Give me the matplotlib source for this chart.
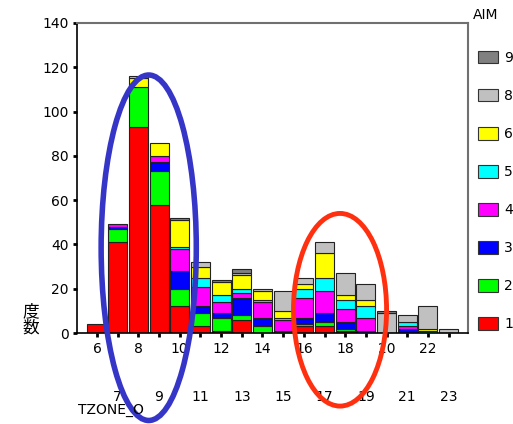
import numpy as np
import matplotlib.pyplot as plt
from matplotlib.patches import Ellipse, Patch

plt.rcParams['font.family'] = ['DejaVu Sans', 'Noto Sans CJK JP']

# --- data: counts per TZONE_O, stacked by AIM ---
tzone = list(range(6, 24))
aim_labels = ["1", "2", "3", "4", "5", "6", "8", "9"]
aim_colors = ["#ff0000", "#00ff00", "#0000ff", "#ff00ff",
              "#00ffff", "#ffff00", "#c0c0c0", "#808080"]

aim1 = [4, 41, 93, 58, 12, 3, 1, 6, 0, 0, 3, 3, 1, 0, 0, 0, 0, 0]
aim2 = [0, 6, 18, 15, 8, 6, 6, 2, 3, 1, 1, 2, 1, 0, 0, 0, 0, 0]
aim3 = [0, 1, 0, 4, 8, 3, 2, 8, 4, 0, 3, 4, 3, 1, 0, 2, 0, 0]
aim4 = [0, 1, 0, 3, 10, 9, 5, 2, 7, 5, 9, 10, 6, 6, 0, 1, 0, 0]
aim5 = [0, 0, 0, 0, 1, 4, 3, 2, 1, 1, 4, 6, 4, 5, 0, 2, 1, 0]
aim6 = [0, 0, 4, 6, 12, 5, 6, 6, 4, 3, 2, 11, 2, 3, 0, 0, 1, 0]
aim8 = [0, 0, 1, 0, 0, 2, 0, 1, 1, 9, 3, 5, 10, 7, 9, 3, 10, 2]
aim9 = [0, 0, 0, 0, 1, 0, 1, 2, 0, 0, 0, 0, 0, 0, 1, 0, 0, 0]

series = [aim1, aim2, aim3, aim4, aim5, aim6, aim8, aim9]

fig = plt.figure(figsize=(5.13, 4.24), dpi=100)
ax = fig.add_axes([0.150, 0.2146, 0.762, 0.7312])

x = np.array(tzone)
bottom = np.zeros(len(x))
for vals, col in zip(series, aim_colors):
    v = np.array(vals, dtype=float)
    m = v > 0
    ax.bar(x[m], v[m], bottom=bottom[m], width=0.92, color=col,
           edgecolor="#222222", linewidth=0.8)
    bottom += v

ax.set_xlim(5.03, 23.93)
ax.set_ylim(0, 140)
ax.set_yticks(range(0, 141, 20))

# staggered x labels: even on the first row, odd on the second
evens = [t for t in tzone if t % 2 == 0]
odds = [t for t in tzone if t % 2 == 1]
ax.set_xticks(evens)
ax.set_xticklabels([str(t) for t in evens])
ax.set_xticks(odds, minor=True)
ax.set_xticklabels([str(t) for t in odds], minor=True)
ax.tick_params(axis="x", which="both", direction="out", length=3, width=2,
               labelsize=10)
ax.tick_params(axis="x", which="major", pad=3.5)
ax.tick_params(axis="x", which="minor", pad=38)
ax.tick_params(axis="y", direction="out", length=3, width=2, labelsize=10, pad=3)

for s in ["left", "bottom"]:
    ax.spines[s].set_color("black")
    ax.spines[s].set_linewidth(1.2)
for s in ["top", "right"]:
    ax.spines[s].set_color("#707070")
    ax.spines[s].set_linewidth(1.5)

fig.text(22 / 513, 1 - 320 / 424, "度\n数", fontsize=12, ha="left", va="center",
         linespacing=1.0, family=["Noto Sans CJK JP", "DejaVu Sans"])
fig.text(78 / 513, 1 - 410 / 424, "TZONE_O", fontsize=10, ha="left", va="center")
fig.text(473 / 513, 1 - 15 / 424, "AIM", fontsize=10, ha="left", va="center")

handles = [Patch(facecolor=c, edgecolor="#333333", linewidth=0.8)
           for c in aim_colors[::-1]]
fig.legend(handles, aim_labels[::-1], loc="upper left",
           bbox_to_anchor=(478 / 513, 1 - 51 / 424), bbox_transform=fig.transFigure,
           frameon=False, fontsize=10, handlelength=1.45, handleheight=1.0,
           handletextpad=0.45, labelspacing=1.73, borderpad=0, borderaxespad=0)

# hand-drawn highlight ellipses
ax.add_patch(Ellipse((8.5, 38.5), 4.6, 156, fill=False, edgecolor="#3535c8",
                     linewidth=4, clip_on=False, zorder=5))
ax.add_patch(Ellipse((17.75, 10.5), 4.5, 87, fill=False, edgecolor="#ff3010",
                     linewidth=3.5, clip_on=False, zorder=5))

fig.savefig("out.png", dpi=100)
